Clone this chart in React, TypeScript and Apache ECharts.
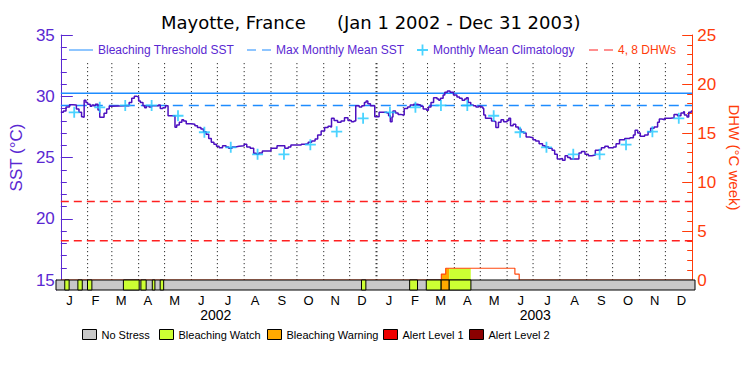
import React, { useEffect, useRef } from "react";
import * as echarts from "echarts";

// ---------- data ----------
const YEARS = [2002, 2003];
const MONTH_LETTERS = ["J", "F", "M", "A", "M", "J", "J", "A", "S", "O", "N", "D"];
const STRESS_LEVELS = ["No Stress", "Bleaching Watch", "Bleaching Warning", "Alert Level 1", "Alert Level 2"];

// Monthly mean climatology (°C), Jan..Dec
const climMonthly = [28.69, 29.1, 29.25, 29.25, 28.41, 27.06, 25.83, 25.26, 25.26, 26.05, 27.11, 28.2];
const MMM = 29.25;
const THRESHOLD = 30.25;
const DHW_LEVELS = [4, 8];

// SST (days since Jan 1 2002, °C)
const sstDays = [
  0, 3, 6, 10, 14, 18, 21, 24, 25, 27, 29, 31, 34, 36, 38, 40, 43, 45, 47, 50, 53, 56, 58, 76, 79, 82, 85, 88, 90, 92,
  95, 97, 99, 102, 105, 111, 113, 115, 118, 121, 123, 124, 130, 132, 134, 137, 140, 142, 145, 151, 155, 158, 162, 165,
  168, 171, 174, 177, 180, 183,
  187, 191, 194, 198, 202, 206, 212, 215, 219, 223, 226, 229, 233, 240, 243, 246, 250, 255, 259, 263, 266, 275, 278,
  282, 286, 290, 294, 297, 301, 305, 309, 312, 313, 316, 320, 324, 328, 332, 336, 339, 341, 345, 348, 351, 353, 355,
  358, 361, 363, 366,
  368, 374, 377, 379, 381, 383, 384, 387, 390, 393, 396, 397, 401, 404, 408, 412, 416, 419, 423, 425, 428, 431, 435,
  437, 439, 442, 444, 447, 450, 454, 458, 461, 464, 467, 469, 471, 474, 477, 480, 483, 486, 488, 489, 491, 494, 498,
  502, 503, 506, 509, 512, 516, 518, 520, 523, 526, 529, 532, 535, 538, 542, 546, 549,
  553, 557, 560, 564, 568, 571, 574, 577, 580, 583, 586, 589, 595, 599, 602, 606, 610, 614, 618, 621, 625, 629, 633,
  639, 642, 646, 652, 658, 662, 664, 667, 670, 675, 679, 682, 686, 690, 692, 695, 698, 705, 709, 713, 717, 720, 721,
  724, 726, 729, 730,
];
const sstValues = [
  28.69, 28.8, 29.12, 29.3, 29.28, 28.96, 28.69, 28.33, 28.28, 29.67, 29.5, 29.34, 29.18, 29.29, 29.23, 29.34, 28.88,
  28.28, 28.28, 28.61, 28.96, 29.18, 29.23, 29.23, 29.5, 29.83, 29.99, 29.94, 29.61, 29.5,
  29.23, 29.07, 29.23, 29.12, 29.23, 29.23, 29.29, 29.01, 29.07, 29.23, 29.23, 28.41, 28.41, 27.46, 27.65, 27.87, 28.09,
  27.98, 27.76, 27.71, 27.6, 27.44, 27.33, 27.11, 26.89, 26.56, 26.24, 26.08, 25.91, 25.8,
  25.96, 25.86, 25.75, 25.86, 25.91, 25.96, 26.08, 25.86, 25.75, 25.34, 25.26, 25.37, 25.53, 25.53, 25.75, 25.75,
  25.96, 25.96, 25.75, 25.86, 26.02, 26.02, 26.08, 26.13, 26.24, 26.35, 26.51, 26.84, 27.16, 27.44, 27.55, 27.49,
  28.2, 28.03, 27.87, 27.98, 28.25, 28.03, 27.92, 27.98, 29.23, 29.12, 29.23, 29.5, 29.61, 29.39, 29.23, 29.23, 28.33,
  28.33,
  28.69, 28.69, 28.63, 28.41, 27.92, 28.31, 28.8, 28.63, 28.52, 28.47, 28.47, 29.01, 29.12, 29.28, 29.34, 29.29, 29.18,
  28.96, 28.85, 29.12, 29.5, 29.88, 29.78, 29.67, 29.83, 30.1, 30.32, 30.43, 30.32, 30.1, 29.94, 29.83, 29.67, 29.78,
  29.88, 29.5, 29.29, 29.23, 29.12, 29.18, 29.12, 29.01, 28.47, 28.2, 28.2, 27.98, 27.92, 27.44, 27.87, 28.09, 27.92,
  28.03, 28.2, 27.6, 27.71, 27.49, 27.33, 27.11, 27.0, 26.67, 26.62, 26.45, 26.35,
  26.13, 25.96, 25.86, 25.75, 25.59, 25.26, 24.88, 24.93, 24.77, 25.15, 24.99, 24.88, 24.88, 25.37, 25.48, 25.26,
  25.15, 25.2, 25.59, 25.64, 25.8, 25.91, 25.8, 25.86, 26.13, 26.45, 26.56, 26.62, 26.84, 27.22, 27.0, 26.73, 26.84,
  27.11, 27.38, 27.49, 27.87, 28.14, 28.09, 28.2, 28.25, 28.52, 28.41, 28.63, 28.74, 28.47, 28.31, 28.69, 28.8, 28.8,
];

// Degree heating weeks: value holds from this day onward
const dhwDays = [0, 440, 445, 525, 530, 730];
const dhwValues = [0, 0.6, 1.2, 0.6, 0, 0];

// Stress periods (days since Jan 1 2002) and level index into STRESS_LEVELS
const stressStart = [10, 25, 36, 77, 97, 110, 119, 349, 404, 423, 440, 449];
const stressEnd = [15, 30, 41, 95, 103, 113, 123, 354, 413, 440, 449, 474];
const stressLevel = [1, 1, 1, 1, 1, 1, 1, 1, 1, 1, 2, 1];

// ---------- styles ----------
const PURPLE = "#5a28d2";
const SST_COLOR = "#4c10c0";
const THRESH_COLOR = "#1e8cff";
const CLIM_COLOR = "#1ec8ff";
const ORANGE = "#ff3c0a";
const RED_DASH = "#ff2020";
const DHW_COLOR = "#ff4a10";
const STRESS_COLORS = ["#c8c8c8", "#ccff33", "#ffaa00", "#ee0000", "#8b0000"];
const STRESS_LEGEND_LEFT = [82, 159, 267, 383, 469];
const DOT_TOP_SST = 32.7;
const PLUS = "path://M4.6 0H6.4V4.6H11V6.4H6.4V11H4.6V6.4H0V4.6H4.6Z";
const SOLID_ICON = "path://M0 0H24V1H0Z";
const DASH_ICON = "path://M0 0H9V1H0Z M15 0H24V1H15Z";

// ---------- derived ----------
const BASE = Date.UTC(YEARS[0], 0, 1);
const dayOf = (y: number, m: number) => (Date.UTC(y, m, 1) - BASE) / 86400000;
const monthStarts: number[] = [];
YEARS.forEach((y) => {
  for (let m = 0; m < 12; m++) monthStarts.push(dayOf(y, m));
});
const TOTAL_DAYS = dayOf(YEARS[YEARS.length - 1] + 1, 0);
monthStarts.push(TOTAL_DAYS);
const monthMids = monthStarts.slice(0, -1).map((s, i) => (s + monthStarts[i + 1]) / 2);
const yearMids = YEARS.map((y) => (dayOf(y, 0) + dayOf(y + 1, 0)) / 2);
const yearStartDays = YEARS.map((y) => dayOf(y, 0));

const dhwAt = (d: number) => {
  let v = 0;
  for (let i = 0; i < dhwDays.length; i++) if (dhwDays[i] <= d) v = dhwValues[i];
  return v;
};

const stressSegments = stressStart.map((s, i) => [s, stressEnd[i], stressLevel[i]]);

export default function App() {
  const ref = useRef<HTMLDivElement>(null);
  useEffect(() => {
    if (!ref.current) return;
    const chart = echarts.init(ref.current, undefined, { renderer: "svg" });

    const barRender = (color: string) => (params: any, api: any) => {
      const p0 = api.coord([api.value(0), 1]);
      const p1 = api.coord([api.value(1), 0]);
      return {
        type: "rect",
        shape: { x: p0[0], y: p0[1], width: p1[0] - p0[0], height: p1[1] - p0[1] },
        style: { fill: color, stroke: "#000", lineWidth: 1 },
      };
    };

    const stressBarSeries = STRESS_LEVELS.map((name, li) => ({
      name,
      type: "custom",
      xAxisIndex: 1,
      yAxisIndex: 2,
      z: 5,
      itemStyle: { color: STRESS_COLORS[li], borderColor: "#000", borderWidth: 1 },
      renderItem: barRender(STRESS_COLORS[li]),
      encode: { x: [0, 1] },
      data: li === 0 ? [[0, TOTAL_DAYS, 0]] : stressSegments.filter((s) => s[2] === li),
    }));

    const lineLegend = (name: string, icon: string, color: string, left: number) => ({
      data: [{ name, icon, textStyle: { color: name === "4, 8 DHWs" ? ORANGE : PURPLE } }],
      left, top: 44, padding: 0, itemWidth: 24, itemHeight: 1.5, selectedMode: false,
      itemStyle: { color, borderWidth: 0 },
      lineStyle: { width: 0 },
      textStyle: { fontSize: 12 },
    });

    const stressLegends = STRESS_LEVELS.map((name, i) => ({
      data: [name],
      left: STRESS_LEGEND_LEFT[i], top: 329, padding: 0, icon: "rect", itemWidth: 14, itemHeight: 10,
      selectedMode: false,
      itemStyle: { borderColor: "#000", borderWidth: 1 },
      textStyle: { fontSize: 11, color: "#000" },
    }));

    const option: any = {
      animation: false,
      textStyle: { fontFamily: "Liberation Sans" },
      title: [
        {
          text: "Mayotte, France",
          left: 161,
          top: 13,
          padding: 0,
          textStyle: { fontFamily: "DejaVu Sans", fontSize: 18, fontWeight: "normal", color: "#000" },
        },
        {
          text: "(Jan 1 2002 - Dec 31 2003)",
          left: 337,
          top: 13,
          padding: 0,
          textStyle: { fontFamily: "DejaVu Sans", fontSize: 18, fontWeight: "normal", color: "#000" },
        },
      ],
      grid: [
        { left: 56, right: 55, top: 35, bottom: 95 },
        { left: 56, right: 55, top: 280, bottom: 85 },
      ],
      legend: [
        lineLegend("Bleaching Threshold SST", SOLID_ICON, THRESH_COLOR, 69),
        lineLegend("Max Monthly Mean SST", DASH_ICON, THRESH_COLOR, 247),
        {
          data: [{ name: "Monthly Mean Climatology", textStyle: { color: PURPLE } }],
          left: 417, top: 44, padding: 0, itemWidth: 11, itemHeight: 11, selectedMode: false,
          textStyle: { fontSize: 12 },
        },
        lineLegend("4, 8 DHWs", DASH_ICON, RED_DASH, 589),
        ...stressLegends,
      ],
      xAxis: [
        {
          gridIndex: 0, type: "value", min: 0, max: TOTAL_DAYS, position: "top",
          axisLine: { show: true, lineStyle: { color: "#000", width: 1 } },
          axisTick: { show: false }, axisLabel: { show: false }, splitLine: { show: false },
        },
        {
          gridIndex: 1, type: "value", min: 0, max: TOTAL_DAYS, position: "bottom",
          axisLine: { show: false }, axisTick: { show: false }, splitLine: { show: false },
          axisLabel: {
            customValues: monthMids,
            formatter: (v: number) => {
              const i = monthMids.findIndex((m) => Math.abs(m - v) < 1);
              return i >= 0 ? MONTH_LETTERS[i % 12] : "";
            },
            color: "#000", fontSize: 13, margin: 4,
          },
        },
        {
          gridIndex: 1, type: "value", min: 0, max: TOTAL_DAYS, position: "bottom", offset: 16,
          axisLine: { show: false }, axisTick: { show: false }, splitLine: { show: false },
          axisLabel: {
            customValues: yearMids,
            formatter: (v: number) => {
              const i = yearMids.findIndex((m) => Math.abs(m - v) < 1);
              return i >= 0 ? String(YEARS[i]) : "";
            },
            color: "#000", fontSize: 14, margin: 2,
          },
        },
      ],
      yAxis: [
        {
          gridIndex: 0, type: "value", min: 15, max: 35, interval: 5, position: "left",
          axisLine: { show: true, lineStyle: { color: PURPLE, width: 1 } },
          axisTick: { show: true, inside: true, length: 12, lineStyle: { color: PURPLE } },
          minorTick: { show: true, splitNumber: 5, length: 6, lineStyle: { color: PURPLE } },
          axisLabel: { color: PURPLE, fontSize: 17, margin: 6 },
          splitLine: { show: false },
          name: "SST (°C)", nameLocation: "middle", nameRotate: 90, nameGap: 30,
          nameTextStyle: { color: PURPLE, fontSize: 17 },
        },
        {
          gridIndex: 0, type: "value", min: 0, max: 25, interval: 5, position: "right",
          axisLine: { show: true, lineStyle: { color: ORANGE, width: 1 } },
          axisTick: { show: true, inside: true, length: 10, lineStyle: { color: ORANGE } },
          minorTick: { show: true, splitNumber: 5, length: 5, lineStyle: { color: ORANGE } },
          axisLabel: { color: ORANGE, fontSize: 17, margin: 5 },
          splitLine: { show: false },
          name: "DHW (°C week)", nameLocation: "middle", nameRotate: -90, nameGap: 28,
          nameTextStyle: { color: ORANGE, fontSize: 15 },
        },
        {
          gridIndex: 1, type: "value", min: 0, max: 1, position: "left",
          axisLine: { show: true, lineStyle: { color: PURPLE, width: 1 } },
          axisTick: { show: false }, axisLabel: { show: false }, splitLine: { show: false },
        },
      ],
      series: [
        {
          name: "monthLines",
          type: "custom",
          xAxisIndex: 0,
          yAxisIndex: 0,
          z: 1,
          silent: true,
          encode: { x: 0 },
          data: monthStarts.slice(1, -1).map((d) => [d]),
          renderItem: (params: any, api: any) => {
            const d = api.value(0);
            const p1 = api.coord([d, DOT_TOP_SST]);
            const p2 = api.coord([d, 15]);
            const isYear = yearStartDays.includes(d);
            return {
              type: "line",
              shape: { x1: p1[0], y1: p1[1], x2: p2[0], y2: p2[1] },
              style: { stroke: "#000", lineWidth: isYear ? 2 : 1, lineDash: [1, 3] },
            };
          },
        },
        {
          name: "Bleaching Threshold SST",
          type: "line", xAxisIndex: 0, yAxisIndex: 0, z: 2,
          symbol: "none", silent: true,
          lineStyle: { color: THRESH_COLOR, width: 1.5 },
          itemStyle: { color: THRESH_COLOR },
          data: [[0, THRESHOLD], [TOTAL_DAYS, THRESHOLD]],
        },
        {
          name: "Max Monthly Mean SST",
          type: "line", xAxisIndex: 0, yAxisIndex: 0, z: 2,
          symbol: "none", silent: true,
          lineStyle: { color: THRESH_COLOR, width: 1.5, type: [10, 6] },
          itemStyle: { color: THRESH_COLOR },
          data: [[0, MMM], [TOTAL_DAYS, MMM]],
        },
        ...DHW_LEVELS.map((lv) => ({
          name: "4, 8 DHWs",
          type: "line", xAxisIndex: 0, yAxisIndex: 1, z: 2,
          symbol: "none", silent: true,
          lineStyle: { color: RED_DASH, width: 1.5, type: [8, 5] },
          itemStyle: { color: RED_DASH },
          data: [[0, lv], [TOTAL_DAYS, lv]],
        })),
        {
          name: "dhwFill",
          type: "custom", xAxisIndex: 0, yAxisIndex: 1, z: 2, silent: true,
          encode: { x: [0, 1] },
          data: stressSegments,
          renderItem: (params: any, api: any) => {
            const s = api.value(0);
            const e = api.value(1);
            const lvl = api.value(2);
            const cuts = [s, ...dhwDays.filter((d) => d > s && d < e), e];
            const pts: number[][] = [api.coord([s, 0])];
            let any = false;
            for (let k = 0; k < cuts.length - 1; k++) {
              const v = dhwAt(cuts[k]);
              if (v > 0) any = true;
              pts.push(api.coord([cuts[k], v]));
              pts.push(api.coord([cuts[k + 1], v]));
            }
            pts.push(api.coord([e, 0]));
            if (!any) return null;
            return { type: "polygon", shape: { points: pts }, style: { fill: STRESS_COLORS[lvl] } };
          },
        },
        {
          name: "DHW",
          type: "line", xAxisIndex: 0, yAxisIndex: 1, z: 3,
          symbol: "none", silent: true, step: "end",
          lineStyle: { color: DHW_COLOR, width: 1.2 },
          data: dhwDays.map((d, i) => [d, dhwValues[i]]),
        },
        {
          name: "SST",
          type: "line", xAxisIndex: 0, yAxisIndex: 0, z: 4,
          symbol: "none", silent: true, step: "end",
          lineStyle: { color: SST_COLOR, width: 1.5 },
          data: sstDays.map((d, i) => [d, sstValues[i]]),
        },
        {
          name: "Monthly Mean Climatology",
          type: "scatter", xAxisIndex: 0, yAxisIndex: 0, z: 6,
          symbol: PLUS, symbolSize: 11, silent: true,
          itemStyle: { color: CLIM_COLOR },
          data: monthMids.map((m, i) => [m, climMonthly[i % 12]]),
        },
        ...stressBarSeries,
      ],
    };
    chart.setOption(option);
    return () => chart.dispose();
  }, []);

  return (
    <div
      ref={ref}
      style={{ position: "fixed", left: 0, top: 0, width: 750, height: 375, background: "#fff" }}
    />
  );
}
